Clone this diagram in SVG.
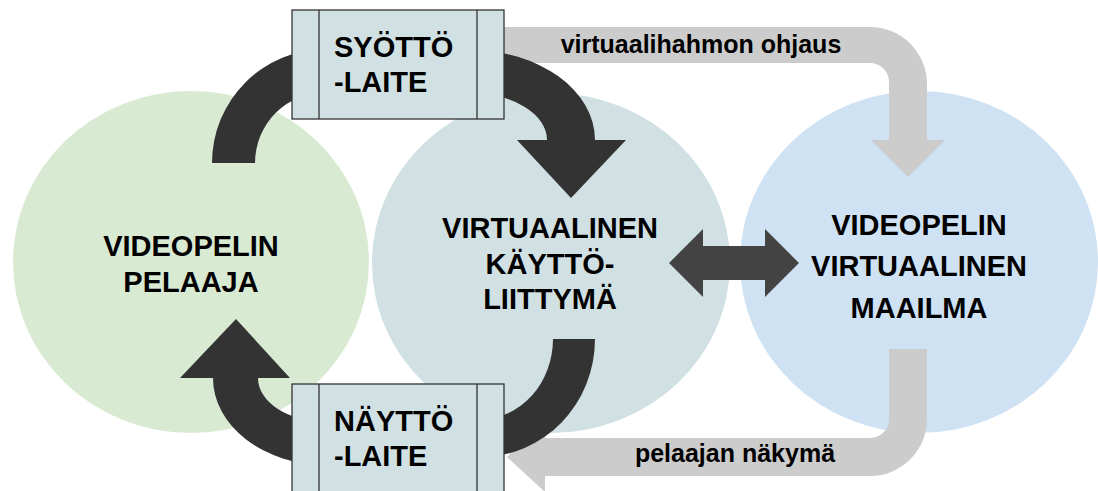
<svg xmlns="http://www.w3.org/2000/svg" width="1098" height="491" viewBox="0 0 1098 491">
  <style>
    .big { font-family: "Liberation Sans", Arial, sans-serif; font-weight: bold; font-size: 29px; fill: #000; }
    .lbl { font-family: "Liberation Sans", Arial, sans-serif; font-weight: bold; font-size: 25px; fill: #000; }
    .box { fill: #d0e0e3; stroke: #333; stroke-width: 1.3; }
    .div { stroke: #333; stroke-width: 1.3; fill: none; }
    .dark { fill: #333333; }
    .gray { fill: #cccccc; }
  </style>
  <rect width="1098" height="491" fill="#ffffff"/>
  <g id="pelaaja">
    <ellipse cx="191" cy="262" rx="178" ry="171" fill="#d9ead3"/>
  </g>
  <g id="kayttoliittyma">
    <ellipse cx="551" cy="263" rx="179" ry="170" fill="#d0e0e3"/>
  </g>
  <g id="maailma">
    <ellipse cx="919" cy="262" rx="179" ry="171" fill="#cfe2f3"/>
  </g>
  <g id="connectors">
    <path class="gray" d="M 495,27 L 870,27 A 57 57 0 0 1 927,84 L 927,140 L 945,140 L 908,177 L 871,140 L 889,140 L 889,82 A 19 19 0 0 0 870,63 L 495,63 Z"/>
    <path class="gray" d="M 889,349 L 927,349 L 927,419 A 57 57 0 0 1 870,476 L 545,476 L 545,492 L 507,457 L 545,422 L 545,438 L 870,438 A 19 19 0 0 0 889,419 Z"/>
    <path class="dark" d="M 212,163 A 114 114 0 0 1 326,49 L 326,92 A 71 71 0 0 0 255,163 Z"/>
    <path class="dark" d="M 470,50 A 125 90 0 0 1 595,140 L 626,140 L 571,198 L 517,140 L 547,140 A 77 47 0 0 0 470,93 Z"/>
    <path class="dark" d="M 595,339 A 114 118 0 0 1 481,457 L 481,419 A 72 80 0 0 0 553,339 Z"/>
    <path class="dark" d="M 326,465 A 113 87 0 0 1 213,378 L 180,378 L 236,319 L 290,378 L 258,378 A 68 44 0 0 0 326,422 Z"/>
    <polygon fill="#434343" points="669,263 703,229 703,246 765,246 765,229 799,263 765,297 765,280 703,280 703,297"/>
    <text class="lbl" x="701" y="53" text-anchor="middle">virtuaalihahmon ohjaus</text>
    <text class="lbl" x="735" y="462" text-anchor="middle">pelaajan näkymä</text>
  </g>
  <g id="syottolaite">
    <rect class="box" x="292" y="10" width="212" height="109"/>
    <line class="div" x1="319" y1="10" x2="319" y2="119"/>
    <line class="div" x1="477" y1="10" x2="477" y2="119"/>
    <text class="big" x="334" y="57">SYÖTTÖ</text>
    <text class="big" x="334" y="92">-LAITE</text>
  </g>
  <g id="nayttolaite">
    <rect class="box" x="292" y="384" width="212" height="109"/>
    <line class="div" x1="319" y1="384" x2="319" y2="493"/>
    <line class="div" x1="477" y1="384" x2="477" y2="493"/>
    <text class="big" x="334" y="431">NÄYTTÖ</text>
    <text class="big" x="334" y="466">-LAITE</text>
  </g>
  <g id="labels">
    <text class="big" x="191" y="256" text-anchor="middle">VIDEOPELIN</text>
    <text class="big" x="191" y="292" text-anchor="middle">PELAAJA</text>
    <text class="big" x="550" y="238" text-anchor="middle">VIRTUAALINEN</text>
    <text class="big" x="550" y="273.5" text-anchor="middle">KÄYTTÖ-</text>
    <text class="big" x="550" y="309" text-anchor="middle">LIITTYMÄ</text>
    <text class="big" x="919" y="235" text-anchor="middle">VIDEOPELIN</text>
    <text class="big" x="919" y="276" text-anchor="middle">VIRTUAALINEN</text>
    <text class="big" x="919" y="318" text-anchor="middle">MAAILMA</text>
  </g>
</svg>
